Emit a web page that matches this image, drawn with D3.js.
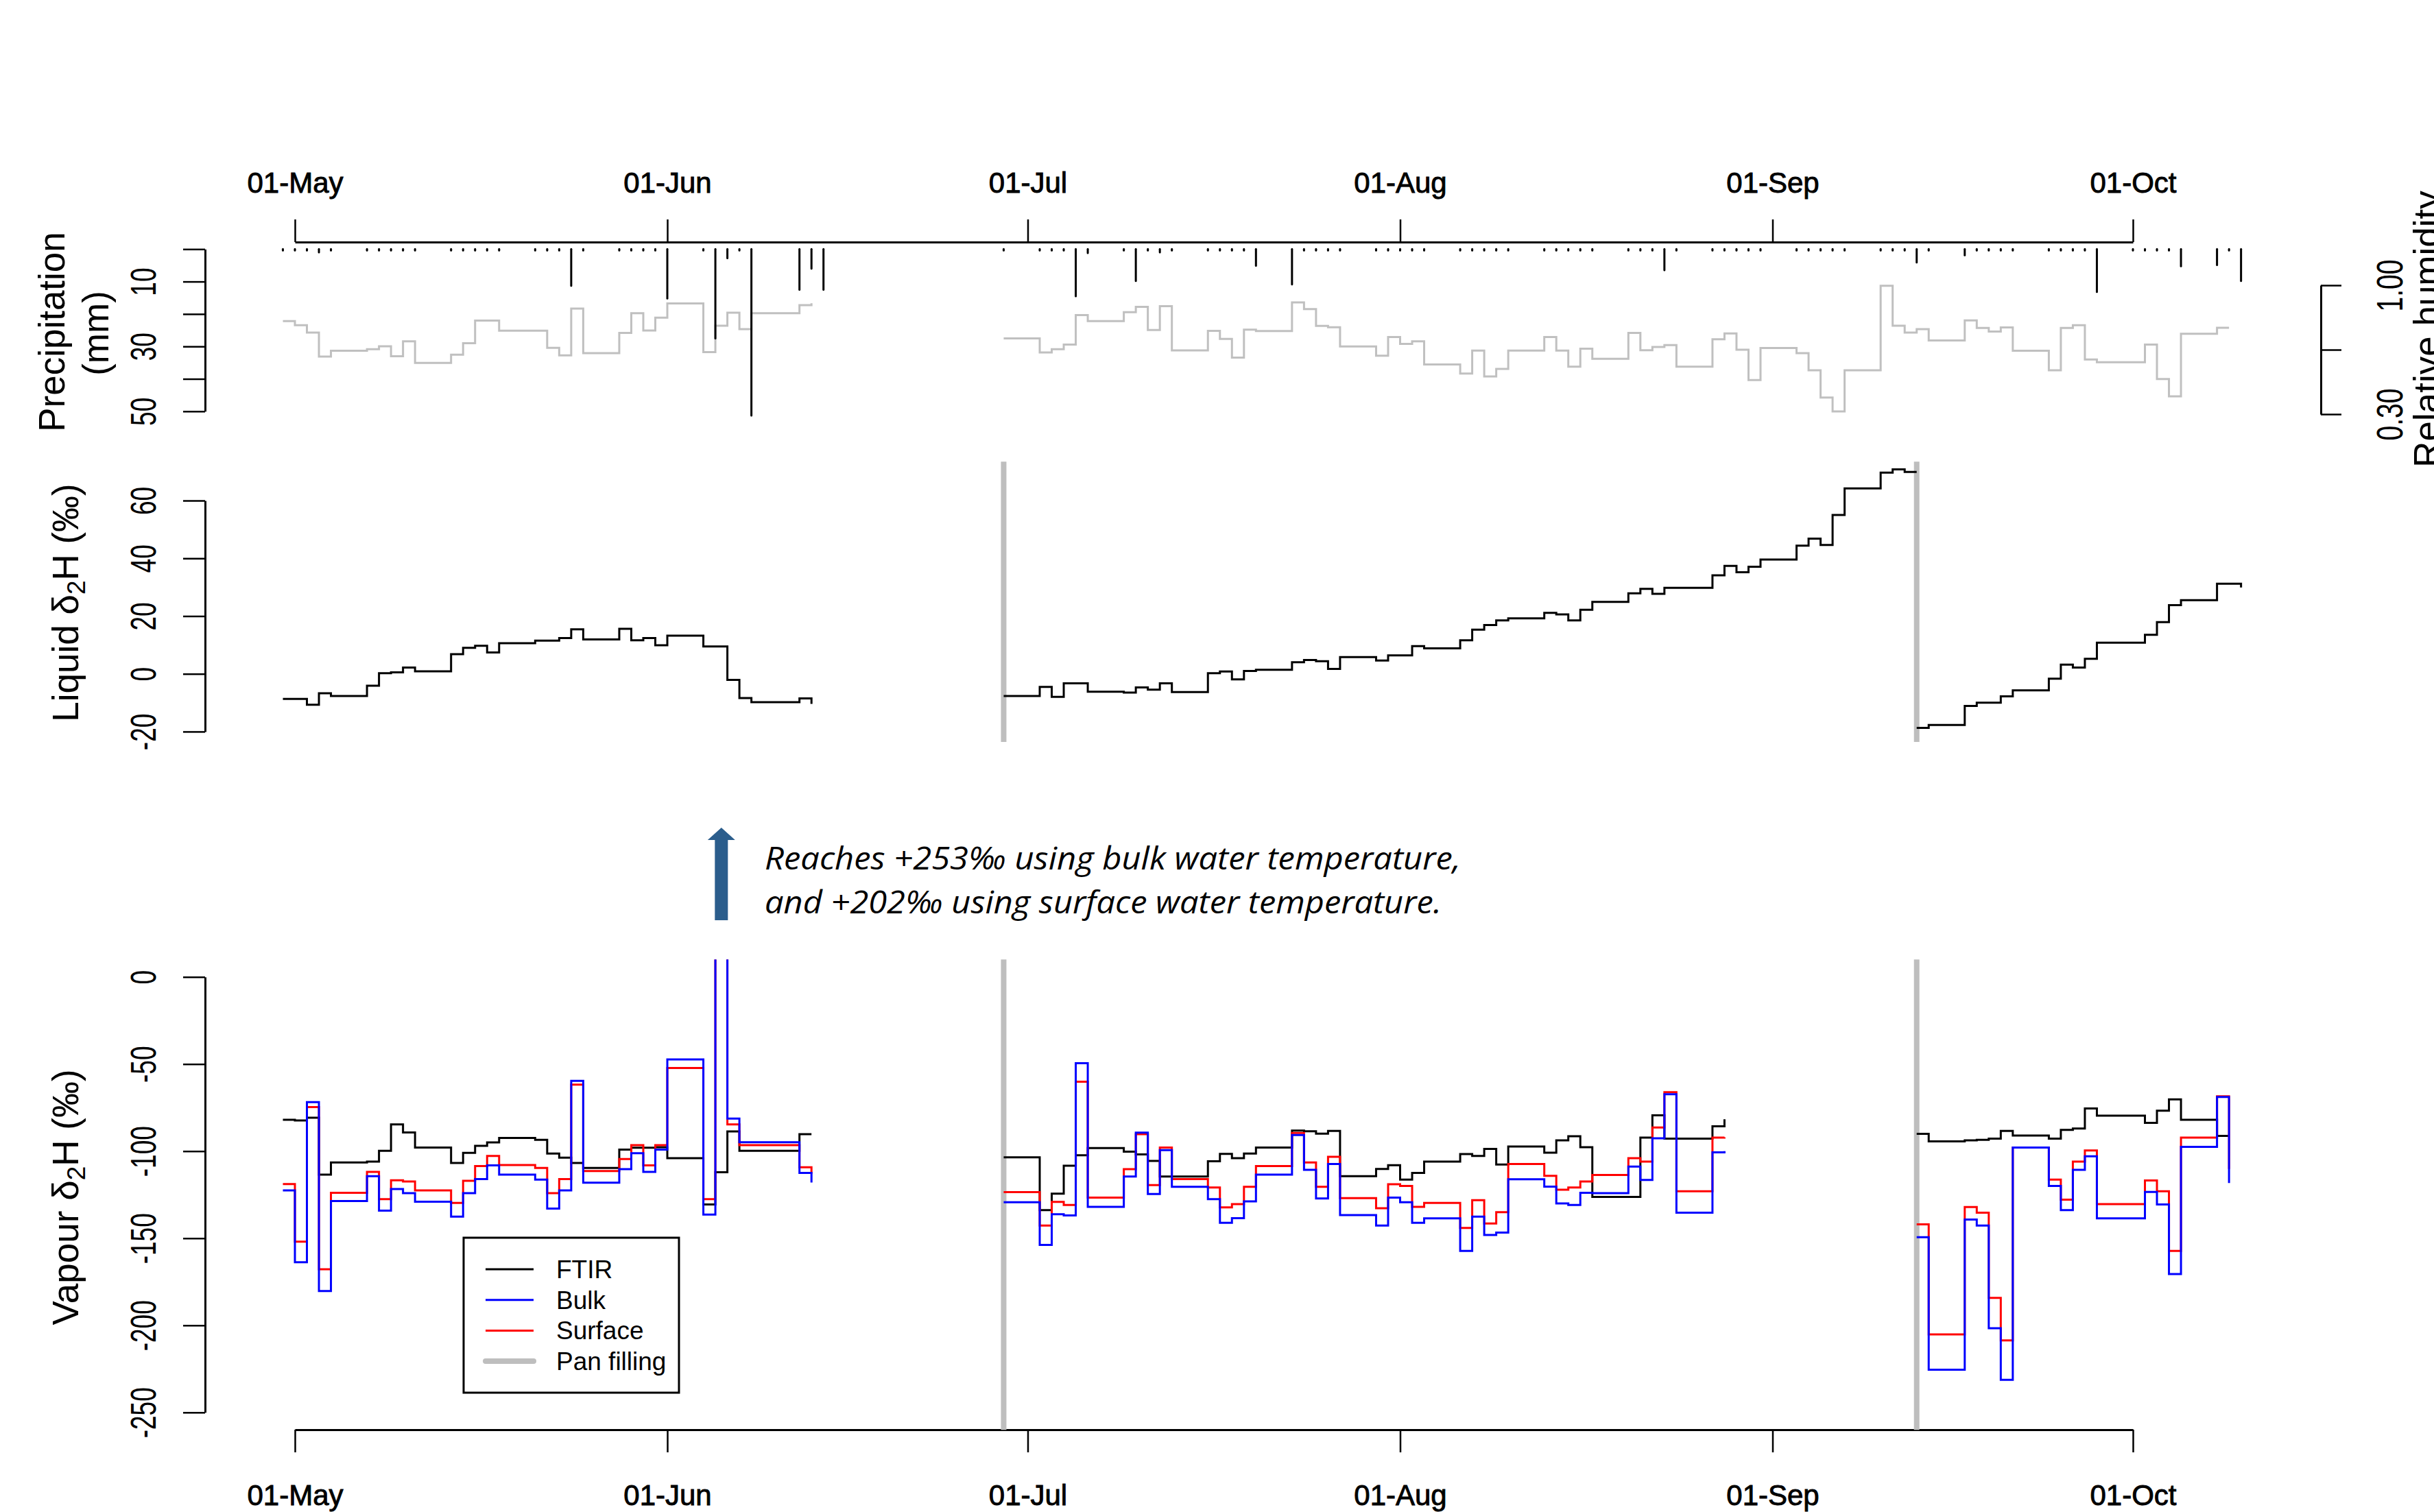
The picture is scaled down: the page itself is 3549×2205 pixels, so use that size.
<!DOCTYPE html>
<html><head><meta charset="utf-8">
<script src="https://cdn.jsdelivr.net/npm/d3@7"></script>
<style>body{margin:0;background:#fff}svg{display:block}</style>
</head><body>
<svg id="chart" width="3549" height="2205"></svg>
<script>
// ---------------- DATA ----------------
const monthTicks = ["2012-05-01","2012-06-01","2012-07-01","2012-08-01","2012-09-01","2012-10-01"];
const panFilling = ["2012-06-29","2012-09-13"];
const seriesNames = ["FTIR","Bulk","Surface","Pan filling"];
const seriesColors = ["#000000","#0000ff","#ff0000","#bebebe"];

// Segment start dates (daily values follow)
const seg1Start = "2012-04-30", seg2Start = "2012-06-29", seg3Start = "2012-09-13";

// Vapour d2H (permil)
const ftir1 = [-82,-82.4,-80.8,-113.5,-106.5,-106.5,-106.5,-106,-99.8,-84.7,-89.3,-97.9,-97.9,-97.9,-106.8,-101,-97,-95,-92.4,-92.4,-92.4,-93.5,-101.4,-103.7,-106.8,-109.6,-109.6,-109.6,-99.1,-98,-98,-97.7,-104,-104,-104,-130.6,-112.1,-88.7,-99.8,-99.8,-99.8,-99.8,-99.8,-90.3,-90.3];
const bulk1 = [-122.5,-163.8,-71.9,-180.3,-128.6,-128.6,-128.6,-114.4,-134.2,-121.8,-124.1,-129,-129,-129,-137.6,-124.1,-116,-108.2,-113.5,-113.5,-113.5,-116.3,-133,-122.5,-59.7,-118.1,-118.1,-118.1,-110.3,-101.2,-111.9,-99.1,-47.4,-47.4,-47.4,-136.4,253,-81.3,-94.9,-94.9,-94.9,-94.9,-94.9,-112.5,-118];
const surface1 = [-118.9,-152,-74.7,-167.8,-123.9,-123.9,-123.9,-111.9,-127.6,-116.7,-117.4,-122.5,-122.5,-122.5,-129.7,-117,-108.6,-102.8,-108,-108,-108,-109.6,-124.1,-116,-61.8,-111.4,-111.4,-111.4,-104.5,-96.6,-108.2,-96.6,-52.3,-52.3,-52.3,-127.6,202,-84.7,-96.6,-96.6,-96.6,-96.6,-96.6,-109.3,-113];

const ftir2 = [-103.5,-103.5,-103.5,-133.9,-124.4,-108.4,-102.4,-98.2,-98.2,-98.2,-100.3,-101.9,-105.6,-114.6,-114.6,-114.6,-114.6,-105.8,-101.6,-104,-101.4,-97.9,-97.9,-97.9,-88.2,-88.6,-90,-88.4,-114.4,-114.4,-114.4,-110.2,-108.1,-116.3,-112.5,-106,-106,-106,-101.7,-102.8,-98.7,-107.7,-97.3,-97.3,-97.3,-100.9,-93.8,-91.4,-97.7,-126.3,-126.3,-126.3,-126.3,-92.2,-79.4,-92.8,-92.8,-92.8,-92.8,-85.7,-81.7];
const bulk2 = [-129.3,-129.3,-129.3,-153.8,-136.2,-136.9,-49.5,-132,-132,-132,-114.6,-89.4,-124.6,-99.4,-120.5,-120.5,-120.5,-127.6,-141.1,-138.5,-128.8,-113.5,-113.5,-113.5,-90.8,-110.7,-127.2,-107.4,-136.7,-136.7,-136.7,-142.7,-126.7,-129.3,-141.1,-138.6,-138.6,-138.6,-157.3,-137.6,-148.1,-146.7,-116.1,-116.1,-116.1,-120.4,-130,-130.9,-123.9,-124.1,-124.1,-124.1,-108.9,-116.5,-92.6,-67.3,-135.3,-135.3,-135.3,-100.7,-100];
const surface2 = [-123.5,-123.5,-123.5,-142.7,-129.1,-130.9,-60.1,-126.7,-126.7,-126.7,-110.3,-90.3,-119.5,-97.9,-116,-116,-116,-120.9,-132.3,-130.4,-120.5,-108.6,-108.6,-108.6,-89.6,-106.5,-120.5,-103.3,-127,-127,-127,-132.8,-119,-120,-132,-129.7,-129.7,-129.7,-144.1,-128.1,-141.5,-135,-107.4,-107.4,-107.4,-114.2,-122.1,-120.9,-117.4,-113.7,-113.7,-113.7,-104,-106,-86.4,-66.2,-123,-123,-123,-92.2,-92];

const ftir3 = [-90.1,-94.4,-94.4,-94.4,-93.8,-93.5,-92.8,-88.4,-91,-91,-91,-92.8,-87.8,-87,-75.5,-79.6,-79.6,-79.6,-79.6,-83.8,-76.8,-70.3,-82,-82,-82,-91.2,-91.2];
const bulk3 = [-149.4,-225.5,-225.5,-225.5,-139.3,-142.7,-201.7,-231.3,-97.9,-97.9,-97.9,-120,-133.9,-110.7,-103,-138.6,-138.6,-138.6,-138.6,-123.4,-130.6,-170.6,-97.5,-97.5,-97.5,-68.9,-118.3];
const surface3 = [-142,-205.2,-205.2,-205.2,-132.1,-135.3,-184.2,-208.6,-97.9,-97.9,-97.9,-116.3,-127.9,-106,-99.6,-130.4,-130.4,-130.4,-130.4,-116.8,-123,-157.3,-92.2,-92.2,-92.2,-68.5,-110.2];

// Liquid d2H (permil)
const liquid1 = [-8.7,-8.7,-10.7,-6.7,-7.7,-7.7,-7.7,-4.1,0.2,0.5,2.2,0.9,0.9,0.9,6.8,9,9.7,7.4,10.6,10.6,10.6,11.5,11.5,12.4,15.4,11.9,11.9,11.9,15.6,11.6,12.4,9.9,13.2,13.2,13.2,9.5,9.5,-2.1,-8.4,-9.8,-9.8,-9.8,-9.8,-8.5,-10.4];
const liquid2 = [-7.7,-7.7,-7.7,-4.5,-8,-3.3,-3.3,-6.2,-6.2,-6.2,-6.5,-4.7,-5.5,-3.3,-6.3,-6.3,-6.3,0.2,0.8,-1.9,1,1.4,1.4,1.4,4,4.8,4.4,1.7,5.8,5.8,5.8,4.6,6.4,6.4,9.6,8.8,8.8,8.8,11.6,15.3,16.9,18.5,19.2,19.2,19.2,21.1,20.6,18.5,22.2,24.9,24.9,24.9,27.9,29.4,27.7,29.8,29.8,29.8,29.8,34.1,37.4,35.2,37.1,39.6,39.6,39.6,44.4,46.8,44.6,55,64.2,64.2,64.2,69.7,70.8,69.9,69.9];
const liquid3 = [-18.7,-17.7,-17.7,-17.7,-11.1,-10,-10,-7.8,-5.7,-5.7,-5.7,-1.7,3.2,2.2,5.2,10.8,10.8,10.8,10.8,13.5,17.9,23.8,25.5,25.5,25.5,31.2,31.2,29.9];

// Relative humidity (fraction)
const rh1 = [0.805,0.783,0.743,0.613,0.644,0.644,0.644,0.653,0.669,0.615,0.696,0.578,0.578,0.578,0.623,0.685,0.808,0.808,0.753,0.753,0.753,0.753,0.660,0.619,0.873,0.631,0.631,0.631,0.741,0.848,0.754,0.824,0.901,0.901,0.901,0.637,0.780,0.851,0.762,0.848,0.848,0.848,0.848,0.892,0.902];
const rh2 = [0.711,0.711,0.711,0.635,0.653,0.678,0.838,0.805,0.805,0.805,0.854,0.883,0.757,0.886,0.646,0.646,0.646,0.752,0.709,0.607,0.759,0.751,0.751,0.751,0.907,0.871,0.779,0.772,0.668,0.668,0.668,0.617,0.719,0.682,0.696,0.570,0.570,0.570,0.521,0.645,0.505,0.546,0.645,0.645,0.645,0.719,0.645,0.558,0.656,0.601,0.601,0.601,0.741,0.647,0.665,0.675,0.558,0.558,0.558,0.707,0.738,0.650,0.485,0.659,0.659,0.659,0.631,0.538,0.390,0.315,0.538,0.538,0.538,0.997,0.780,0.743,0.762,0.700,0.700,0.700,0.809,0.768,0.749,0.771,0.644,0.644,0.644,0.538,0.768,0.783,0.597,0.582,0.582,0.582,0.582,0.678,0.491,0.397,0.737,0.737,0.737,0.769,0.769];

// Precipitation: day offset from 01-May, and amount (mm)
const precipDay = [-1,0,1,2,3,6,7,8,9,10,13,14,15,16,17,20,21,22,23,24,27,28,29,30,31,34,35,36,37,38,42,43,44,59,62,63,64,65,66,69,70,71,72,73,76,77,78,79,80,83,84,85,86,87,90,91,92,93,94,97,98,99,100,101,104,105,106,107,108,111,112,113,114,115,118,119,120,121,122,125,126,127,128,129,132,133,134,135,136,139,140,141,142,143,146,147,148,149,150,153,154,155,156,157,160,161,162];
const precipMm = [0.4,0.4,0.4,1.0,0.4,0.4,0.4,0.4,0.4,0.4,0.4,0.4,0.4,0.4,0.4,0.4,0.4,0.4,11.3,0.4,0.4,0.4,0.4,0.4,15.2,0.4,27.5,2.8,0.4,51.3,12.5,6,12.5,0.4,0.4,0.4,0.4,14.5,1.2,0.4,9.8,0.4,1.0,0.4,0.4,0.4,0.4,0.4,5.1,10.9,0.4,0.4,0.4,0.4,0.4,0.4,0.4,0.4,0.4,0.4,0.4,0.4,0.4,0.4,0.4,0.4,0.4,0.4,0.4,0.4,0.4,0.4,6.5,0.4,0.4,0.4,0.4,0.4,0.4,0.4,0.4,0.4,0.4,0.4,0.4,0.4,0.4,4.1,0.4,1.9,0.4,0.4,0.4,0.4,0.4,0.4,0.4,0.4,13.2,0.4,0.4,0.4,0.4,5.3,4.9,0.4,9.8];

const precipTicks = [0,10,20,30,40,50], precipLabels = [10,30,50];
const liquidTicks = [-20,0,20,40,60];
const vapourTicks = [-250,-200,-150,-100,-50,0];
const rhTicks = [0.3,0.65,1.0], rhLabels = [0.3,1.0];
const annotationLines = ["Reaches +253‰ using bulk water temperature,","and +202‰ using surface water temperature."];
const spikeDate = "2012-06-05";

// ---------------- CHART ----------------
const FONT = "'Liberation Sans', Arial, Helvetica, sans-serif";
const svg = d3.select("#chart");
const parse = d3.utcParse("%Y-%m-%d");
const x = d3.scaleUtc().domain([parse("2012-05-01"), parse("2012-10-01")]).range([430, 3110]);
const yP = d3.scaleLinear().domain([0, 50]).range([363.3, 599.8]);
const yRH = d3.scaleLinear().domain([0.3, 1.0]).range([604, 416]);
const yL = d3.scaleLinear().domain([-20, 60]).range([1066.9, 730]);
const yV = d3.scaleLinear().domain([-250, 0]).range([2059.8, 1424.7]);

const toSeries = (start, vals) => { const s = parse(start); return vals.map((v, i) => ({date: d3.utcDay.offset(s, i), v})); };
const stepLine = (ys) => d3.line().x(d => x(d.date)).y(d => ys(d.v)).curve(d3.curveStepAfter);

function styleAxis(g, fs) {
  g.attr("font-family", FONT).attr("font-size", fs);
  g.select(".domain").attr("stroke", "#000").attr("stroke-width", 3);
  g.selectAll(".tick line").attr("stroke", "#000").attr("stroke-width", 2.5);
  g.selectAll(".tick text").attr("fill", "#000");
}

// Top & bottom date axes
const tickDates = monthTicks.map(parse);
const fmt = d3.utcFormat("%d-%b");
const gTop = svg.append("g").attr("transform", "translate(0,353)")
  .call(d3.axisTop(x).tickValues(tickDates).tickFormat(fmt).tickSize(33).tickSizeOuter(0).tickPadding(39));
styleAxis(gTop, 42);
gTop.selectAll(".tick text").attr("stroke", "#000").attr("stroke-width", 0.9);
const gBot = svg.append("g").attr("transform", "translate(0,2085)")
  .call(d3.axisBottom(x).tickValues(tickDates).tickFormat(fmt).tickSize(33).tickSizeOuter(0).tickPadding(47));
styleAxis(gBot, 42);
gBot.selectAll(".tick text").attr("stroke", "#000").attr("stroke-width", 0.9);

// Left axes with rotated labels
function leftAxis(scale, ticks, labels, xpos) {
  const g = svg.append("g").attr("transform", `translate(${xpos},0)`)
    .call(d3.axisLeft(scale).tickValues(ticks).tickFormat(d => labels.includes(d) ? String(d) : "").tickSize(32).tickSizeOuter(0));
  styleAxis(g, 37);
  g.selectAll(".tick text").attr("x", null).attr("dy", null)
    .attr("transform", "translate(-72,0) scale(1.4,1) rotate(-90)").attr("text-anchor", "middle");
  return g;
}
leftAxis(yP, precipTicks, precipLabels, 299);
leftAxis(yL, liquidTicks, liquidTicks, 299);
leftAxis(yV, vapourTicks, vapourTicks, 299);

// Right RH axis
const gR = svg.append("g").attr("transform", "translate(3384,0)")
  .call(d3.axisRight(yRH).tickValues(rhTicks).tickFormat(d => rhLabels.includes(d) ? d3.format(".2f")(d) : "").tickSize(30).tickSizeOuter(0));
styleAxis(gR, 39);
gR.selectAll(".tick text").attr("x", null).attr("dy", null)
  .attr("transform", "translate(119,0) scale(1.4,1) rotate(-90)").attr("text-anchor", "middle");

// Relative humidity line
[rh1, rh2].forEach((vals, i) => {
  svg.append("path").datum(toSeries(i === 0 ? seg1Start : seg2Start, vals))
    .attr("d", stepLine(yRH)).attr("fill", "none").attr("stroke", "#c0c0c0").attr("stroke-width", 3);
});

// Precipitation bars
const may1 = parse("2012-05-01");
svg.append("g").selectAll("line").data(precipDay.map((d, i) => ({date: d3.utcDay.offset(may1, d), v: precipMm[i]})))
  .join("line")
  .attr("x1", d => x(d.date)).attr("x2", d => x(d.date))
  .attr("y1", yP(0)).attr("y2", d => yP(d.v))
  .attr("stroke", "#000").attr("stroke-width", 3).attr("stroke-linecap", "round");

// Pan filling lines
const liqTop = yL(73.5), liqBot = yL(-23.6), vapTop = yV(10), vapBot = yV(-260);
panFilling.map(parse).forEach(d => {
  svg.append("line").attr("x1", x(d)).attr("x2", x(d)).attr("y1", liqTop).attr("y2", liqBot)
    .attr("stroke", seriesColors[3]).attr("stroke-width", 8);
  svg.append("line").attr("x1", x(d)).attr("x2", x(d)).attr("y1", vapTop).attr("y2", vapBot)
    .attr("stroke", seriesColors[3]).attr("stroke-width", 8);
});

// Liquid lines
[[seg1Start, liquid1], [seg2Start, liquid2], [seg3Start, liquid3]].forEach(([s, vals]) => {
  svg.append("path").datum(toSeries(s, vals)).attr("d", stepLine(yL))
    .attr("fill", "none").attr("stroke", "#000").attr("stroke-width", 3);
});

// Vapour lines (clipped to plot region)
svg.append("clipPath").attr("id", "vclip").append("rect")
  .attr("x", 0).attr("y", vapTop).attr("width", 3549).attr("height", vapBot - vapTop);
const gV = svg.append("g").attr("clip-path", "url(#vclip)");
const vapSegs = [[seg1Start, ftir1, bulk1, surface1], [seg2Start, ftir2, bulk2, surface2], [seg3Start, ftir3, bulk3, surface3]];
vapSegs.forEach(([s, f, b, su]) => {
  [[f, 0], [su, 2], [b, 1]].forEach(([vals, ci]) => {
    gV.append("path").datum(toSeries(s, vals)).attr("d", stepLine(yV))
      .attr("fill", "none").attr("stroke", seriesColors[ci]).attr("stroke-width", 3);
  });
});

// Legend
const lg = svg.append("g").attr("font-family", FONT).attr("font-size", 37);
lg.append("rect").attr("x", 676).attr("y", 1805).attr("width", 314).attr("height", 226)
  .attr("fill", "#fff").attr("stroke", "#000").attr("stroke-width", 3);
seriesNames.forEach((n, i) => {
  const yy = 1851 + i * 44.7;
  lg.append("line").attr("x1", 708).attr("x2", 778).attr("y1", yy).attr("y2", yy)
    .attr("stroke", seriesColors[i]).attr("stroke-width", i === 3 ? 8 : 3).attr("stroke-linecap", i === 3 ? "round" : "butt");
  lg.append("text").attr("x", 811).attr("y", yy).attr("dy", "0.35em").text(n);
});

// Axis titles
function rotTitle(xb, yc, parts) {
  const t = svg.append("text").attr("transform", `translate(${xb},${yc}) rotate(-90)`)
    .attr("text-anchor", "middle").attr("font-family", FONT).attr("font-size", 53);
  parts.forEach(p => {
    const ts = t.append("tspan").text(p.t);
    if (p.sub) ts.attr("font-size", 37).attr("dy", 10);
    if (p.after) ts.attr("dy", -10);
  });
}
rotTitle(94, 484, [{t: "Precipitation"}]);
rotTitle(158, 486, [{t: "(mm)"}]);
rotTitle(114, 879, [{t: "Liquid δ"}, {t: "2", sub: true}, {t: "H (‰)", after: true}]);
rotTitle(114, 1746, [{t: "Vapour δ"}, {t: "2", sub: true}, {t: "H (‰)", after: true}]);
rotTitle(3557, 480, [{t: "Relative humidity"}]);

// Annotation arrow and text
const ax = x(d3.utcHour.offset(parse(spikeDate), 12));
svg.append("path")
  .attr("d", `M${ax-9.5},1342 L${ax-9.5},1225 L${ax-20},1225 L${ax},1207 L${ax+20},1225 L${ax+9.5},1225 L${ax+9.5},1342 Z`)
  .attr("fill", "#2b5d8c");
annotationLines.forEach((l, i) => {
  svg.append("text").attr("x", 1115).attr("y", 1268 + i * 64)
    .attr("font-family", "'Open Sans', 'Noto Sans', sans-serif").attr("font-style", "italic")
    .attr("font-size", 45).attr("textLength", i === 0 ? 1015 : 987).attr("lengthAdjust", "spacingAndGlyphs")
    .text(l);
});
</script>
</body></html>
